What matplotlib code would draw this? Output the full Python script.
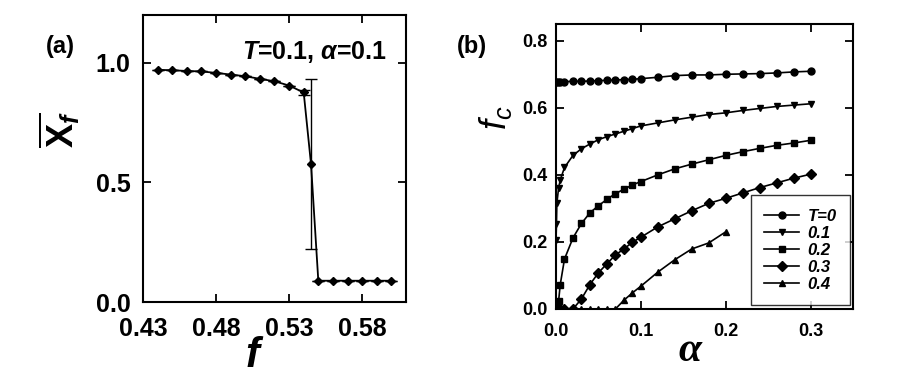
import numpy as np
import matplotlib
matplotlib.use("Agg")
import matplotlib.pyplot as plt

plt.rcParams['font.family'] = ['Liberation Sans', 'DejaVu Sans']
plt.rcParams['font.weight'] = 'bold'
plt.rcParams['mathtext.fontset'] = 'custom'
plt.rcParams['mathtext.rm'] = 'Liberation Sans:bold'
plt.rcParams['mathtext.bf'] = 'Liberation Sans:bold'
plt.rcParams['mathtext.it'] = 'Liberation Sans:bold:italic'
plt.rcParams['mathtext.sf'] = 'Liberation Sans:italic:normal'

# panel (a): order parameter vs f, T=0.1, a=0.1
f_vals = [0.44, 0.45, 0.46, 0.47, 0.48, 0.49, 0.50, 0.51, 0.52, 0.53, 0.54,
          0.545, 0.55, 0.56, 0.57, 0.58, 0.59, 0.60]
xf_vals = [0.971, 0.969, 0.966, 0.964, 0.958, 0.951, 0.944, 0.933, 0.923, 0.905,
           0.876, 0.577, 0.089, 0.089, 0.089, 0.089, 0.089, 0.089]
xf_err = [0, 0, 0, 0, 0, 0, 0, 0, 0, 0, 0.012, 0.357, 0, 0, 0, 0, 0, 0]

# panel (b): critical f vs a for several T
a_T0 = [0, 0.002, 0.005, 0.01, 0.02, 0.03, 0.04, 0.05, 0.06, 0.07, 0.08, 0.09, 0.1,
        0.12, 0.14, 0.16, 0.18, 0.2, 0.22, 0.24, 0.26, 0.28, 0.3]
fc_T0 = [0.677, 0.677, 0.678, 0.678, 0.679, 0.679, 0.680, 0.681, 0.682, 0.683, 0.684,
         0.685, 0.687, 0.691, 0.696, 0.698, 0.698, 0.700, 0.701, 0.702, 0.704, 0.707, 0.709]

a_T1 = [0, 0.0005, 0.001, 0.003, 0.005, 0.01, 0.02, 0.03, 0.04, 0.05, 0.06, 0.07, 0.08,
        0.09, 0.1, 0.12, 0.14, 0.16, 0.18, 0.2, 0.22, 0.24, 0.26, 0.28, 0.3]
fc_T1 = [0.207, 0.252, 0.315, 0.36, 0.385, 0.422, 0.458, 0.478, 0.492, 0.505, 0.514,
         0.522, 0.530, 0.538, 0.546, 0.555, 0.564, 0.572, 0.580, 0.585, 0.592, 0.598,
         0.604, 0.608, 0.612]

a_T2 = [0, 0.003, 0.005, 0.01, 0.02, 0.03, 0.04, 0.05, 0.06, 0.07, 0.08, 0.09, 0.1,
        0.12, 0.14, 0.16, 0.18, 0.2, 0.22, 0.24, 0.26, 0.28, 0.3]
fc_T2 = [0.003, 0.023, 0.073, 0.149, 0.212, 0.255, 0.287, 0.308, 0.327, 0.344, 0.357,
         0.370, 0.380, 0.400, 0.418, 0.432, 0.445, 0.458, 0.469, 0.479, 0.488, 0.495, 0.503]

a_T3 = [0, 0.005, 0.01, 0.02, 0.03, 0.04, 0.05, 0.06, 0.07, 0.08, 0.09, 0.1,
        0.12, 0.14, 0.16, 0.18, 0.2, 0.22, 0.24, 0.26, 0.28, 0.3]
fc_T3 = [0, 0, 0, 0, 0.030, 0.073, 0.108, 0.135, 0.161, 0.179, 0.199, 0.214,
         0.245, 0.269, 0.293, 0.315, 0.330, 0.346, 0.362, 0.376, 0.390, 0.402]

a_T4 = [0.03, 0.04, 0.05, 0.06, 0.07, 0.08, 0.09, 0.1, 0.12, 0.14, 0.16, 0.18, 0.2]
fc_T4 = [0, 0, 0, 0, 0, 0.026, 0.048, 0.068, 0.110, 0.147, 0.179, 0.197, 0.230]

series_b = [(a_T0, fc_T0, 'o', 'T=0'), (a_T1, fc_T1, 'v', '0.1'),
            (a_T2, fc_T2, 's', '0.2'), (a_T3, fc_T3, 'D', '0.3'),
            (a_T4, fc_T4, '^', '0.4')]


def style_axes(ax, size, xpad, ypad):
    ax.tick_params(direction='in', top=True, right=True, length=6, width=1.3,
                   labelsize=size)
    ax.tick_params(axis='x', pad=xpad)
    ax.tick_params(axis='y', pad=ypad)
    for sp in ax.spines.values():
        sp.set_linewidth(1.5)
    for lab in ax.get_xticklabels() + ax.get_yticklabels():
        lab.set_fontweight('bold')


fig = plt.figure(figsize=(9.16, 3.77), dpi=100)

ax1 = fig.add_axes([0.1561, 0.1989, 0.2871, 0.7613])
ax1.errorbar(f_vals, xf_vals, yerr=xf_err, color='k', marker='D', ms=4.5,
             lw=1.3, elinewidth=1.0, capsize=4, capthick=1.0)
ax1.set_xlim(0.43, 0.61)
ax1.set_ylim(0, 1.2)
ax1.set_xticks([0.43, 0.48, 0.53, 0.58])
ax1.set_xticklabels(['0.43', '0.48', '0.53', '0.58'])
ax1.set_yticks([0.0, 0.5, 1.0])
ax1.set_yticklabels(['0.0', '0.5', '1.0'])
style_axes(ax1, 18, 11, 9)
ax1.text(0.597, 1.045, r'$T$=0.1, $\alpha$=0.1', ha='right', va='center', fontsize=18)
ax1.set_xlabel(r'$f$', fontsize=30, labelpad=-4, x=0.425)
ax1.set_ylabel(r'$\overline{\mathbf{X}_{f}}$', fontsize=26, labelpad=10, y=0.6)
fig.text(0.050, 0.86, '(a)', fontsize=17, fontweight='bold')

ax2 = fig.add_axes([0.607, 0.1804, 0.3242, 0.756])
for a_v, fc_v, mk, lab in series_b:
    ax2.plot(a_v, fc_v, color='k', marker=mk, ms=5, lw=1.2, label=lab)
ax2.set_xlim(0, 0.35)
ax2.set_ylim(0, 0.85)
ax2.set_xticks([0.0, 0.1, 0.2, 0.3])
ax2.set_xticklabels(['0.0', '0.1', '0.2', '0.3'])
ax2.set_yticks([0.0, 0.2, 0.4, 0.6, 0.8])
ax2.set_yticklabels(['0.0', '0.2', '0.4', '0.6', '0.8'])
style_axes(ax2, 13, 10, 6)
ax2.set_xlabel('α', fontsize=30, family='Liberation Serif', style='italic',
               fontweight='bold', labelpad=-6, x=0.45)
ax2.set_ylabel(r'$\mathsf{f_c}$', fontsize=26, labelpad=6, y=0.67)
leg = ax2.legend(loc='lower right', bbox_to_anchor=(0.99, 0.014), frameon=True,
                 fancybox=False, edgecolor='k', handlelength=2.1, borderaxespad=0,
                 prop={'style': 'italic', 'weight': 'bold', 'size': 12},
                 borderpad=0.8, labelspacing=0.12, handletextpad=0.5)
leg.get_frame().set_linewidth(1.0)
fig.text(0.499, 0.86, '(b)', fontsize=17, fontweight='bold')

fig.savefig('out.png', dpi=100)
